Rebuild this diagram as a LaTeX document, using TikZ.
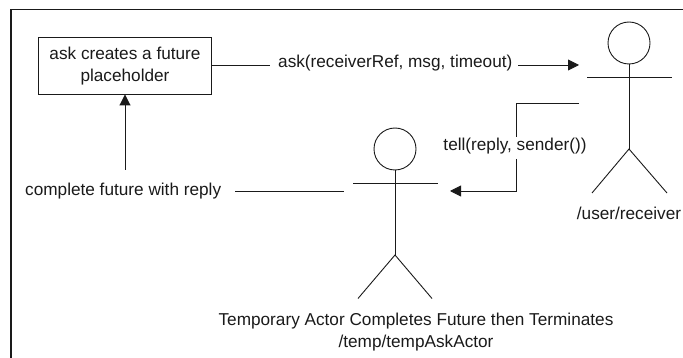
\documentclass[tikz,border=0pt]{standalone}
\usepackage{fontspec}
\setmainfont{Liberation Sans}
\usetikzlibrary{arrows.meta}
\definecolor{ink}{HTML}{1A1A1A}
\tikzset{
  x=1pt,y=-1pt,
  frameline/.style={draw=ink,line width=1.1pt},
  stick/.style={draw=ink,line width=0.9pt},
  conn/.style={draw=ink,line width=0.9pt},
  arr/.style={conn,-{Triangle[length=11pt,width=11pt]}},
  lab/.style={font=\fontsize{17.2}{22}\selectfont,text=ink,inner sep=0pt,align=center},
  boxnode/.style={draw=ink,line width=0.9pt,minimum width=172.5pt,minimum height=57pt,inner sep=0pt,align=center,font=\fontsize{17.2}{22}\selectfont,text=ink},
  headnode/.style={draw=ink,line width=0.9pt,circle,minimum size=42pt,inner sep=0pt},
}
\begin{document}
\begin{tikzpicture}
\useasboundingbox (0,0) rectangle (683,358);
\draw[frameline] (11,358) -- (11,9.5) -- (683,9.5);
\node[boxnode] (box) at (125,65.5) {};
\node[lab] (boxtext) at (125,66.5) {ask creates a future\\placeholder};
\node[lab,anchor=west] (ask) at (278,63) {ask(receiverRef, msg, timeout)};
\node[lab,anchor=west] (complete) at (25,191) {complete future with reply};
\node[lab] (tell) at (515,146) {tell(reply, sender())};
\node[lab] (recv) at (629,213) {/user/receiver};
\node[lab] (temp) at (416,332) {Temporary Actor Completes Future then Terminates\\/temp/tempAskActor};
% receiver actor
\node[headnode] (headR) at (629,43) {};
\coordinate (hipR) at (629,149);
\draw[stick] (headR.south) -- (hipR);
\draw[stick] (587,77) -- (672,77);
\draw[stick] (592,193) -- (hipR) -- (667,193);
% temp actor
\node[headnode] (headT) at (395,149) {};
\coordinate (hipT) at (395,255);
\draw[stick] (headT.south) -- (hipT);
\draw[stick] (353,183.5) -- (438,183.5);
\draw[stick] (358,298.5) -- (hipT) -- (432,298.5);
% connectors
\coordinate (askend) at (579,65);
\coordinate (askstart) at (518,65);
\coordinate (askgap) at (270,65);
\coordinate (tellstart) at (579,103.5);
\coordinate (tellend) at (450,191);
\coordinate (tellcorner) at (516.5,103.5);
\coordinate (tellgapA) at (516.5,137);
\coordinate (tellgapB) at (516.5,159);
\coordinate (tellbend) at (516.5,191);
\coordinate (compstart) at (235,191);
\coordinate (compend) at (344,191);
\coordinate (uptail) at (125,170);
\draw[conn] (box.east |- askgap) -- (askgap);
\draw[arr] (askstart) -- (askend);
\draw[conn] (tellstart) -- (tellcorner) -- (tellgapA);
\draw[arr] (tellgapB) -- (tellbend) -- (tellend);
\draw[conn] (compstart) -- (compend);
\draw[arr] (uptail) -- (box.south -| uptail);
\end{tikzpicture}
\end{document}
